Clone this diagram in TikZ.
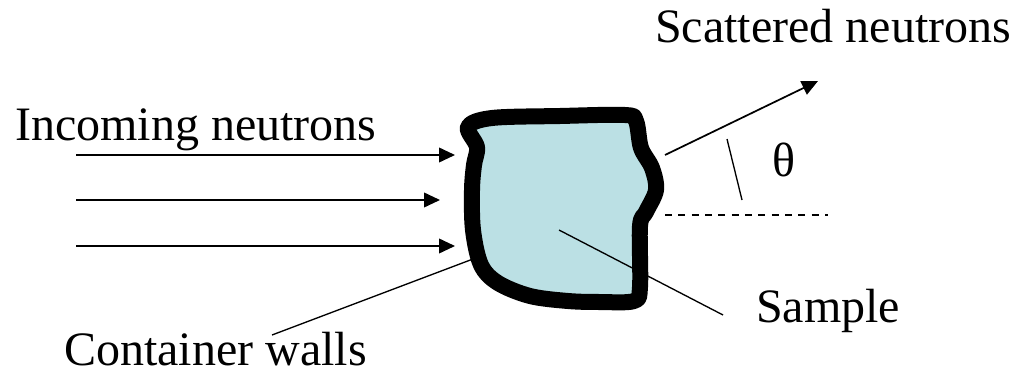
\documentclass[tikz,border=0pt]{standalone}
\usepackage{fontspec}
\setmainfont{LiberationSerif-Regular.ttf}
\usetikzlibrary{arrows.meta}
\definecolor{samplefill}{RGB}{187,224,228}
\begin{document}
\begin{tikzpicture}[x=0.75pt,y=-0.75pt,
  lbl/.style={font=\fontsize{36}{40}\selectfont, inner sep=0pt, anchor=base west},
  beam/.style={line width=1.3pt, -{Triangle[length=12pt,width=11pt]}},
  pointer/.style={line width=1pt},
  wall/.style={draw=black, line width=12pt, line join=round, fill=samplefill}]
\useasboundingbox (0,0) rectangle (1027,374);

% sample inside its container
\draw[wall] plot[smooth cycle, tension=0.55] coordinates {
  (468,127) (492,118) (560,116) (625,115) (636,121) (641,148) (652,168)
  (656,190) (646,212) (640,226) (640,287) (634,301) (600,302) (568,301)
  (530,296) (498,283) (481,265) (473,230) (472,190) (474,165) (477,147)};

% labels
\node[lbl] (inc) at (15,141) {Incoming neutrons};
\node[lbl] (sca) at (655,43) {Scattered neutrons};
\node[lbl] (con) at (64,365) {Container walls};
\node[lbl] (sam) at (756,322) {Sample};
\node[lbl] (theta) at (772,176) {θ};

% incoming beam
\coordinate (i1s) at (76,155);  \coordinate (i1e) at (455,155);
\coordinate (i2s) at (76,200);  \coordinate (i2e) at (440,200);
\coordinate (i3s) at (76,246);  \coordinate (i3e) at (455,246);
\draw[beam] (i1s) -- (i1e);
\draw[beam] (i2s) -- (i2e);
\draw[beam] (i3s) -- (i3e);

% scattered beam, reference direction and angle mark
\coordinate (ss) at (665,155);  \coordinate (se) at (818,81);
\draw[beam] (ss) -- (se);
\coordinate (ds) at (665,215);  \coordinate (de) at (828,215);
\draw[line width=1pt, dash pattern=on 5.2pt off 4.8pt] (ds) -- (de);
\coordinate (ta) at (727,139);  \coordinate (tb) at (742,200);
\draw[pointer] (ta) -- (tb);

% leader lines
\coordinate (wallpt) at (473,259);  \coordinate (conpt) at (272,335);
\draw[pointer] (conpt) -- (wallpt);
\coordinate (sampt) at (559,230);  \coordinate (samend) at (723,315);
\draw[pointer] (sampt) -- (samend);
\end{tikzpicture}
\end{document}
